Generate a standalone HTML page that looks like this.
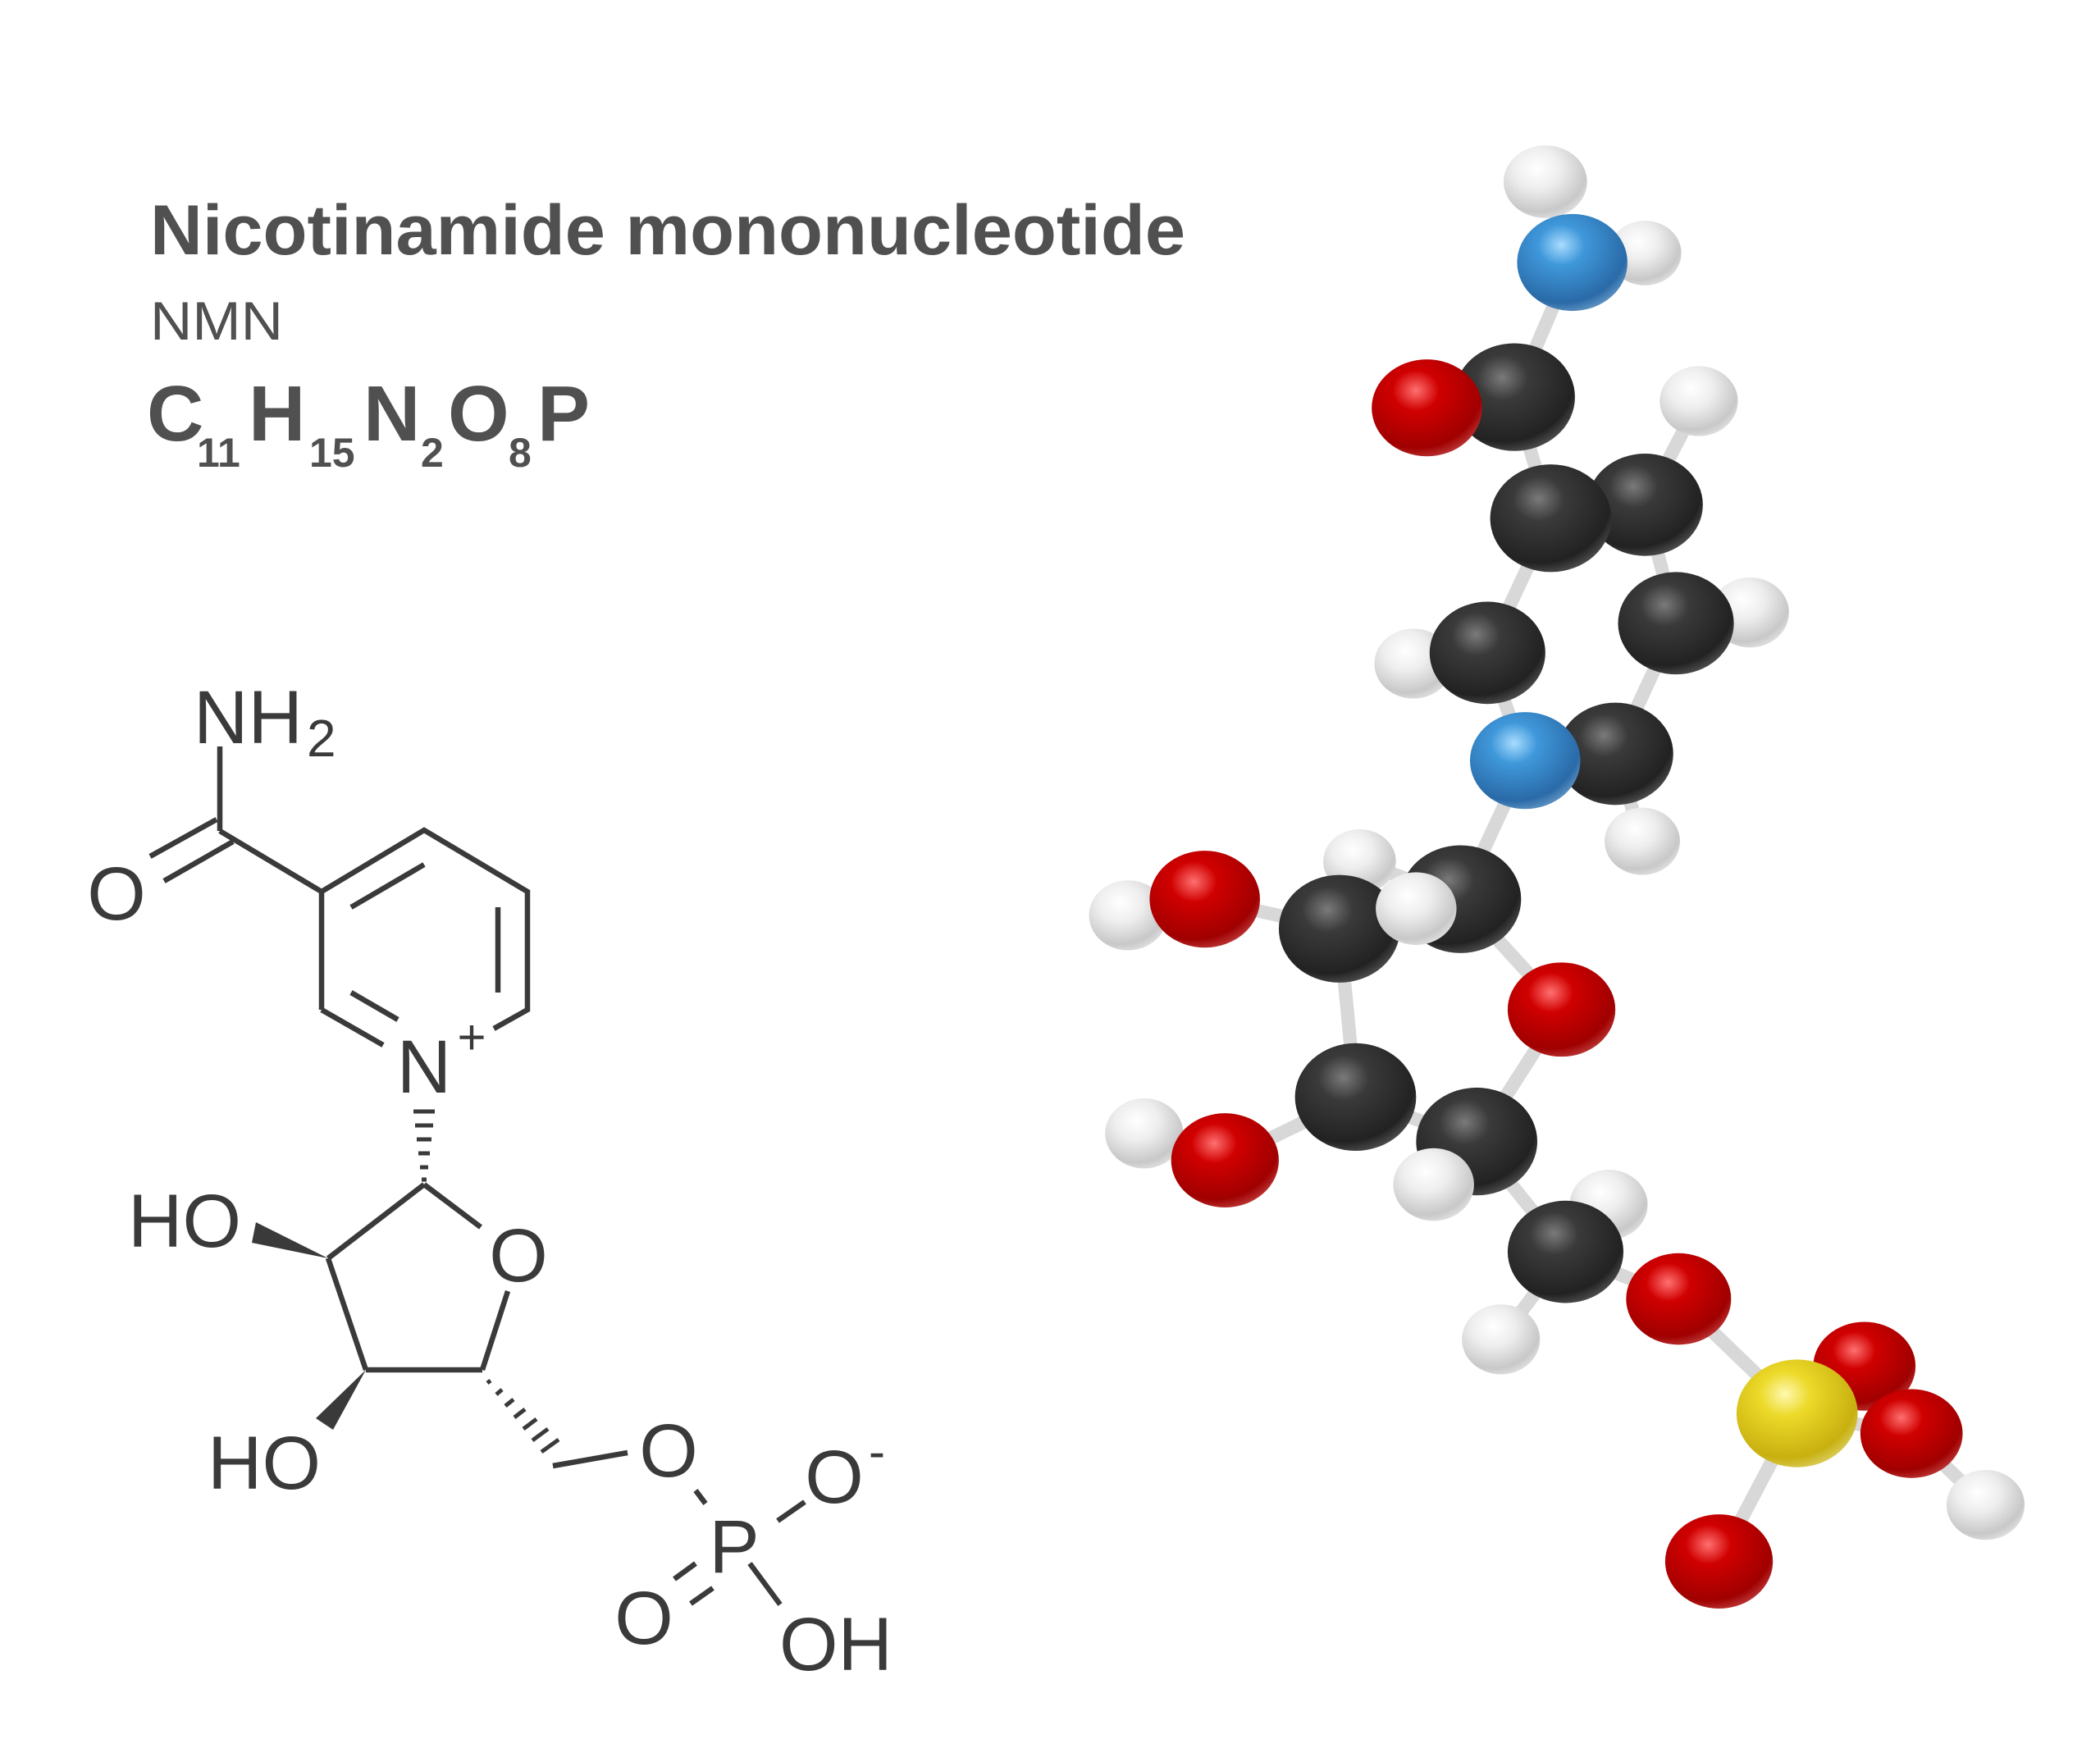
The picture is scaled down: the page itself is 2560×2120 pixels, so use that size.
<!DOCTYPE html>
<html><head><meta charset="utf-8"><style>
html,body{margin:0;padding:0;background:#fff;}
svg{display:block}
</style></head><body>
<svg width="2560" height="2120" viewBox="0 0 2560 2120" xmlns="http://www.w3.org/2000/svg">
<defs>
<radialGradient id="gC" cx="0.4" cy="0.32" r="0.7"><stop offset="0" stop-color="#7a7a7a"/><stop offset="0.3" stop-color="#3a3a3a"/><stop offset="0.85" stop-color="#222"/><stop offset="1" stop-color="#4a4a4a"/></radialGradient>
<radialGradient id="gO" cx="0.4" cy="0.32" r="0.7"><stop offset="0" stop-color="#ff7070"/><stop offset="0.3" stop-color="#d00000"/><stop offset="0.85" stop-color="#a00000"/><stop offset="1" stop-color="#b83030"/></radialGradient>
<radialGradient id="gN" cx="0.4" cy="0.32" r="0.7"><stop offset="0" stop-color="#a8dcff"/><stop offset="0.3" stop-color="#3f98da"/><stop offset="0.85" stop-color="#2a6aa8"/><stop offset="1" stop-color="#5a90c0"/></radialGradient>
<radialGradient id="gH" cx="0.4" cy="0.32" r="0.7"><stop offset="0" stop-color="#ffffff"/><stop offset="0.4" stop-color="#eeeeee"/><stop offset="0.85" stop-color="#c8c8c8"/><stop offset="1" stop-color="#ddd"/></radialGradient>
<radialGradient id="gP" cx="0.4" cy="0.32" r="0.7"><stop offset="0" stop-color="#fff9b0"/><stop offset="0.3" stop-color="#ecd928"/><stop offset="0.85" stop-color="#c8b010"/><stop offset="1" stop-color="#d8c850"/></radialGradient>
</defs>

<g fill="#505050" font-family="Liberation Sans, sans-serif" font-weight="bold">
<text x="183" y="310" font-size="86" textLength="1262" lengthAdjust="spacingAndGlyphs">Nicotinamide mononucleotide</text>
<text x="183" y="414" font-size="66" font-weight="normal" textLength="162" lengthAdjust="spacingAndGlyphs">NMN</text>
<text x="179" y="537" font-size="96">C</text>
<text x="240" y="569" font-size="50">11</text>
<text x="303" y="537" font-size="96">H</text>
<text x="377" y="569" font-size="50">15</text>
<text x="443" y="537" font-size="96">N</text>
<text x="513" y="569" font-size="50">2</text>
<text x="546" y="537" font-size="96">O</text>
<text x="620" y="569" font-size="50">8</text>
<text x="655" y="537" font-size="96">P</text>
</g>

<g stroke="#3a3a3a" stroke-width="6.5" fill="none" stroke-linecap="butt">
<line x1="268" y1="910" x2="268" y2="1013"/>
<line x1="183" y1="1044" x2="264" y2="999"/>
<line x1="200" y1="1074" x2="284" y2="1026"/>
<line x1="268" y1="1013" x2="392" y2="1087"/>
<polyline points="392,1231 392,1087 517,1012 643,1087 643,1231 602,1254"/>
<line x1="392" y1="1231" x2="467" y2="1274"/>
<line x1="428" y1="1106" x2="517" y2="1054"/>
<line x1="607" y1="1106" x2="607" y2="1210"/>
<line x1="428" y1="1210" x2="485" y2="1243"/>
<line x1="517" y1="1444" x2="586" y2="1496"/>
<line x1="619" y1="1574" x2="588" y2="1670"/>
<line x1="517" y1="1444" x2="400" y2="1534"/>
<line x1="400" y1="1534" x2="446" y2="1670"/>
<line x1="446" y1="1670" x2="588" y2="1670"/>
<line x1="674" y1="1787" x2="765" y2="1771"/>
<line x1="848" y1="1817" x2="860" y2="1833"/>
<line x1="948" y1="1854" x2="981" y2="1831"/>
<line x1="822" y1="1925" x2="848" y2="1906"/>
<line x1="842" y1="1955" x2="869" y2="1936"/>
<line x1="914" y1="1906" x2="951" y2="1956"/>
</g>
<g stroke="#3a3a3a" stroke-width="5">
<line x1="504" y1="1355" x2="530" y2="1355"/>
<line x1="506" y1="1372" x2="528" y2="1372"/>
<line x1="508" y1="1389" x2="526" y2="1389"/>
<line x1="510" y1="1406" x2="524" y2="1406"/>
<line x1="512" y1="1423" x2="522" y2="1423"/>
<line x1="514" y1="1438" x2="520" y2="1438"/>
</g>
<g stroke="#3a3a3a" stroke-width="5">
<line x1="594" y1="1686" x2="598" y2="1683"/>
<line x1="605" y1="1700" x2="612" y2="1694"/>
<line x1="616" y1="1714" x2="626" y2="1706"/>
<line x1="627" y1="1728" x2="640" y2="1718"/>
<line x1="638" y1="1742" x2="654" y2="1730"/>
<line x1="649" y1="1756" x2="668" y2="1742"/>
<line x1="660" y1="1770" x2="681" y2="1755"/>
</g>
<polygon points="400,1534 307,1515 312,1490" fill="#3a3a3a"/>
<polygon points="446,1670 385,1729 406,1743" fill="#3a3a3a"/>

<g fill="#3a3a3a" font-family="Liberation Sans, sans-serif" font-size="92">
<text x="236" y="906">NH</text>
<text x="374" y="922" font-size="64">2</text>
<text x="142" y="1121" text-anchor="middle">O</text>
<text x="517" y="1332" text-anchor="middle">N</text>
<text x="575" y="1285" font-size="60" text-anchor="middle">+</text>
<text x="632" y="1562" text-anchor="middle">O</text>
<text x="156" y="1520">HO</text>
<text x="253" y="1815">HO</text>
<text x="815" y="1800" text-anchor="middle">O</text>
<text x="895" y="1917" text-anchor="middle">P</text>
<text x="1017" y="1832" text-anchor="middle">O</text>
<text x="1069" y="1790" font-size="60" text-anchor="middle">-</text>
<text x="785" y="2004" text-anchor="middle">O</text>
<text x="950" y="2036">OH</text>
</g>

<g transform="scale(1.641)">
<g stroke="#d8d8d8" stroke-width="10" stroke-linecap="round">
<line x1="1148" y1="135" x2="1168" y2="195"/>
<line x1="1168" y1="195" x2="1222" y2="188"/>
<line x1="1168" y1="195" x2="1125" y2="295"/>
<line x1="1125" y1="295" x2="1060" y2="303"/>
<line x1="1125" y1="295" x2="1152" y2="385"/>
<line x1="1152" y1="385" x2="1222" y2="375"/>
<line x1="1222" y1="375" x2="1262" y2="298"/>
<line x1="1222" y1="375" x2="1245" y2="463"/>
<line x1="1245" y1="463" x2="1300" y2="455"/>
<line x1="1245" y1="463" x2="1200" y2="560"/>
<line x1="1152" y1="385" x2="1105" y2="485"/>
<line x1="1105" y1="485" x2="1050" y2="493"/>
<line x1="1105" y1="485" x2="1133" y2="565"/>
<line x1="1133" y1="565" x2="1200" y2="560"/>
<line x1="1200" y1="560" x2="1220" y2="625"/>
<line x1="1133" y1="565" x2="1085" y2="668"/>
<line x1="1085" y1="668" x2="1010" y2="640"/>
<line x1="1085" y1="668" x2="995" y2="690"/>
<line x1="1085" y1="668" x2="1160" y2="750"/>
<line x1="995" y1="690" x2="895" y2="668"/>
<line x1="895" y1="668" x2="838" y2="680"/>
<line x1="995" y1="690" x2="1007" y2="815"/>
<line x1="1007" y1="815" x2="910" y2="862"/>
<line x1="910" y1="862" x2="850" y2="842"/>
<line x1="1007" y1="815" x2="1097" y2="848"/>
<line x1="1160" y1="750" x2="1097" y2="848"/>
<line x1="1097" y1="848" x2="1065" y2="880"/>
<line x1="1097" y1="848" x2="1163" y2="930"/>
<line x1="1163" y1="930" x2="1195" y2="895"/>
<line x1="1163" y1="930" x2="1115" y2="995"/>
<line x1="1163" y1="930" x2="1247" y2="965"/>
<line x1="1247" y1="965" x2="1335" y2="1050"/>
<line x1="1335" y1="1050" x2="1385" y2="1015"/>
<line x1="1335" y1="1050" x2="1420" y2="1065"/>
<line x1="1420" y1="1065" x2="1475" y2="1118"/>
<line x1="1335" y1="1050" x2="1277" y2="1160"/>
</g>
<ellipse cx="1148" cy="135" rx="31" ry="27" fill="url(#gH)"/>
<ellipse cx="1222" cy="188" rx="27" ry="24" fill="url(#gH)"/>
<ellipse cx="1168" cy="195" rx="41" ry="36" fill="url(#gN)"/>
<ellipse cx="1262" cy="298" rx="29" ry="26" fill="url(#gH)"/>
<ellipse cx="1125" cy="295" rx="45" ry="40" fill="url(#gC)"/>
<ellipse cx="1060" cy="303" rx="41" ry="36" fill="url(#gO)"/>
<ellipse cx="1222" cy="375" rx="43" ry="38" fill="url(#gC)"/>
<ellipse cx="1152" cy="385" rx="45" ry="40" fill="url(#gC)"/>
<ellipse cx="1300" cy="455" rx="29" ry="26" fill="url(#gH)"/>
<ellipse cx="1245" cy="463" rx="43" ry="38" fill="url(#gC)"/>
<ellipse cx="1050" cy="493" rx="29" ry="26" fill="url(#gH)"/>
<ellipse cx="1105" cy="485" rx="43" ry="38" fill="url(#gC)"/>
<ellipse cx="1220" cy="625" rx="28" ry="25" fill="url(#gH)"/>
<ellipse cx="1200" cy="560" rx="43" ry="38" fill="url(#gC)"/>
<ellipse cx="1133" cy="565" rx="41" ry="36" fill="url(#gN)"/>
<ellipse cx="1010" cy="640" rx="27" ry="24" fill="url(#gH)"/>
<ellipse cx="1085" cy="668" rx="45" ry="40" fill="url(#gC)"/>
<ellipse cx="838" cy="680" rx="29" ry="26" fill="url(#gH)"/>
<ellipse cx="895" cy="668" rx="41" ry="36" fill="url(#gO)"/>
<ellipse cx="995" cy="690" rx="45" ry="40" fill="url(#gC)"/>
<ellipse cx="1052" cy="675" rx="30" ry="27" fill="url(#gH)"/>
<ellipse cx="1160" cy="750" rx="40" ry="35" fill="url(#gO)"/>
<ellipse cx="850" cy="842" rx="29" ry="26" fill="url(#gH)"/>
<ellipse cx="1007" cy="815" rx="45" ry="40" fill="url(#gC)"/>
<ellipse cx="910" cy="862" rx="40" ry="35" fill="url(#gO)"/>
<ellipse cx="1195" cy="895" rx="29" ry="26" fill="url(#gH)"/>
<ellipse cx="1097" cy="848" rx="45" ry="40" fill="url(#gC)"/>
<ellipse cx="1065" cy="880" rx="30" ry="27" fill="url(#gH)"/>
<ellipse cx="1163" cy="930" rx="43" ry="38" fill="url(#gC)"/>
<ellipse cx="1115" cy="995" rx="29" ry="26" fill="url(#gH)"/>
<ellipse cx="1247" cy="965" rx="39" ry="34" fill="url(#gO)"/>
<ellipse cx="1385" cy="1015" rx="38" ry="33" fill="url(#gO)"/>
<ellipse cx="1335" cy="1050" rx="45" ry="40" fill="url(#gP)"/>
<ellipse cx="1475" cy="1118" rx="29" ry="26" fill="url(#gH)"/>
<ellipse cx="1420" cy="1065" rx="38" ry="33" fill="url(#gO)"/>
<ellipse cx="1277" cy="1160" rx="40" ry="35" fill="url(#gO)"/>
</g>
</svg>
</body></html>
